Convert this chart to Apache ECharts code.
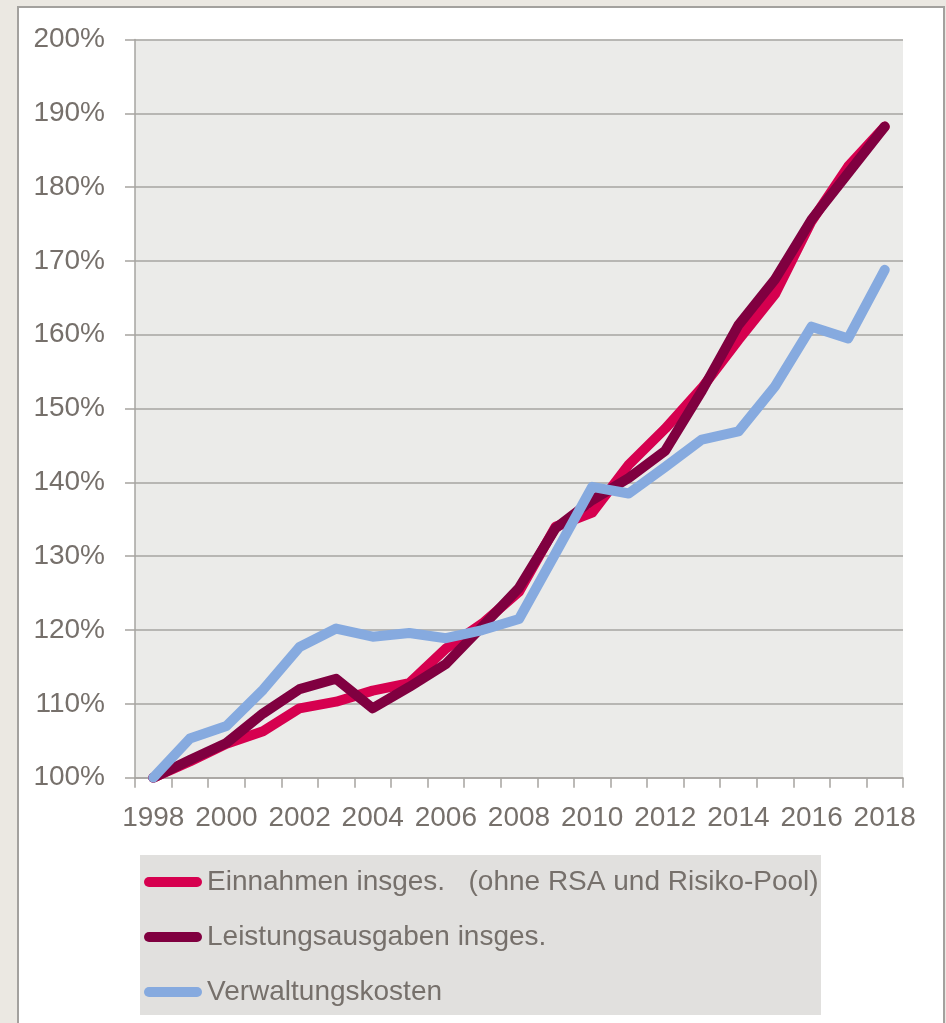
<!DOCTYPE html>
<html>
<head>
<meta charset="utf-8">
<script src="https://cdn.jsdelivr.net/npm/echarts@6/dist/echarts.min.js"></script>
<style>
html,body{margin:0;padding:0;background:#EBE8E2;width:946px;height:1023px;overflow:hidden;}
#panel{position:absolute;left:17px;top:6px;width:924px;height:1100px;background:#fff;border:2px solid #A3A19E;}
#chart{position:absolute;left:0;top:0;width:946px;height:1023px;}
</style>
</head>
<body>
<div id="panel"></div>
<div id="chart"></div>
<script>
const years = ['1998','1999','2000','2001','2002','2003','2004','2005','2006','2007','2008','2009','2010','2011','2012','2013','2014','2015','2016','2017','2018'];
const seriesNames = ['Einnahmen insges.   (ohne RSA und Risiko-Pool)', 'Leistungsausgaben insges.', 'Verwaltungskosten'];
const einnahmen = [100, 102.2, 104.6, 106.3, 109.4, 110.3, 111.8, 112.8, 117.5, 120.9, 125.2, 134.0, 135.9, 142.4, 147.3, 152.8, 159.3, 165.5, 175.4, 182.8, 188.2];
const leistungsausgaben = [100, 102.4, 104.7, 108.7, 112.0, 113.4, 109.4, 112.3, 115.4, 120.5, 125.7, 133.8, 137.6, 140.6, 144.3, 152.4, 161.3, 167.5, 175.6, 181.9, 188.2];
const verwaltungskosten = [100, 105.3, 107.0, 111.9, 117.7, 120.2, 119.1, 119.6, 118.9, 120.0, 121.5, 130.4, 139.4, 138.5, 142.1, 145.8, 146.9, 153.0, 161.1, 159.5, 168.8];
const colors = ['#D6004F', '#800040', '#86AADF'];

const textColor = '#76706B';
const gridColor = '#A6A4A0';
const font = "'Liberation Sans', Arial, sans-serif";

const chart = echarts.init(document.getElementById('chart'), null, {renderer: 'canvas'});
const capsule = 'path://M5,0L53,0A5,5,0,0,1,53,10L5,10A5,5,0,0,1,5,0Z';

function mkSeries(name, data, color) {
  return {
    name: name, type: 'line', data: data, symbol: 'none', showSymbol: false,
    color: color,
    lineStyle: {color: color, width: 10, cap: 'round', join: 'round'},
    itemStyle: {color: color},
    emphasis: {disabled: true},
    silent: true
  };
}

chart.setOption({
  animation: false,
  backgroundColor: 'transparent',
  graphic: [{
    type: 'rect', left: 140, top: 855, z: -1,
    shape: {width: 681, height: 160},
    style: {fill: '#E1E0DE'}
  }],
  grid: {
    left: 135, right: 43, top: 39.5, bottom: 245.3,
    show: true, backgroundColor: '#EBEBE9', borderWidth: 0
  },
  xAxis: {
    type: 'category', data: years, boundaryGap: true,
    axisLine: {show: true, lineStyle: {color: gridColor, width: 1.5}},
    axisTick: {show: true, interval: 0, length: 10, lineStyle: {color: gridColor, width: 1.5}},
    axisLabel: {interval: 1, color: textColor, fontSize: 28, fontFamily: font, margin: 27},
    splitLine: {show: false}
  },
  yAxis: {
    type: 'value', min: 100, max: 200, interval: 10,
    axisLine: {show: true, lineStyle: {color: gridColor, width: 1.5}},
    axisTick: {show: true, length: 10, lineStyle: {color: gridColor, width: 1.5}},
    axisLabel: {formatter: '{value}%', color: textColor, fontSize: 28, fontFamily: font, margin: 30},
    splitLine: {show: true, lineStyle: {color: gridColor, width: 1.5}}
  },
  legend: {
    orient: 'vertical', left: 144, top: 866, padding: 0,
    icon: capsule, itemWidth: 58, itemHeight: 10, itemGap: 23,
    itemStyle: {borderWidth: 0},
    textStyle: {color: textColor, fontSize: 28, fontFamily: font, lineHeight: 32, padding: [0,0,0,0]},
    data: seriesNames,
    selectedMode: false
  },
  series: [
    mkSeries(seriesNames[0], einnahmen, colors[0]),
    mkSeries(seriesNames[1], leistungsausgaben, colors[1]),
    mkSeries(seriesNames[2], verwaltungskosten, colors[2])
  ]
});
</script>
</body>
</html>
